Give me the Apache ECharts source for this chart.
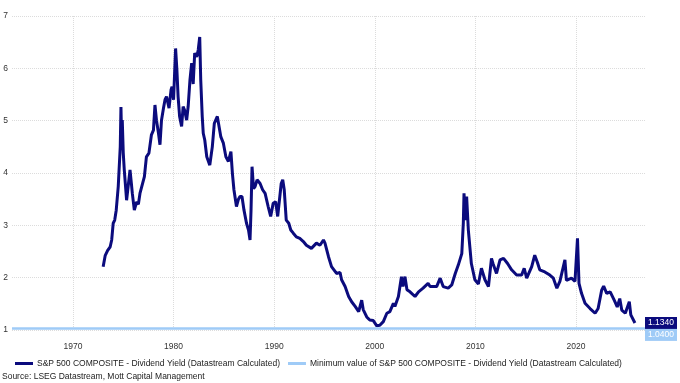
<!DOCTYPE html>
<html>
<head>
<meta charset="utf-8">
<script src="https://cdn.jsdelivr.net/npm/echarts@6/dist/echarts.min.js"></script>
<style>html,body{margin:0;padding:0;background:#fff}#c{width:680px;height:383px}</style>
</head>
<body>
<div id="c"></div>
<script>
// Decimal years and dividend yield (%)
const years = [
1973.0,1973.2,1973.45,1973.7,1973.85,1974.0,1974.15,1974.3,1974.5,1974.7,1974.77,1974.83,1974.9,1975.0,1975.1,1975.33,1975.5,1975.67,1975.8,1975.9,
1976.1,1976.33,1976.5,1976.66,1976.8,1977.1,1977.3,1977.55,1977.8,1978.0,1978.15,1978.3,1978.5,1978.65,1978.8,1979.0,1979.15,
1979.3,1979.55,1979.75,1979.85,1980.0,1980.2,1980.33,1980.45,1980.6,1980.8,1980.95,1981.1,1981.3,1981.45,1981.63,1981.8,
1981.95,1982.1,1982.3,1982.45,1982.6,1982.7,1982.85,1982.95,1983.1,1983.3,1983.45,1983.6,1983.85,1984.05,1984.35,1984.5,
1984.7,1984.95,1985.2,1985.45,1985.7,1985.85,1986.0,1986.25,1986.45,1986.6,1986.8,1987.0,1987.25,1987.45,1987.6,1987.7,1987.8,
1987.95,1988.1,1988.3,1988.6,1988.85,1989.1,1989.4,1989.65,1989.9,1990.15,1990.35,1990.5,1990.7,1990.85,1991.0,1991.2,1991.45,
1991.65,1991.9,1992.2,1992.55,1992.9,1993.2,1993.7,1994.2,1994.55,1994.9,1995.05,1995.4,1995.7,1996.2,1996.55,1996.7,
1997.05,1997.4,1997.7,1998.05,1998.4,1998.7,1998.85,1999.2,1999.5,1999.85,2000.2,2000.5,2000.85,2001.2,2001.5,2001.85,
2002.0,2002.35,2002.65,2002.8,2003.0,2003.2,2003.5,2004.0,2004.35,2004.8,2005.3,2005.5,2006.15,2006.5,2006.8,2007.3,
2007.65,2008.0,2008.3,2008.65,2008.8,2008.87,2009.0,2009.13,2009.3,2009.6,2009.95,2010.3,2010.6,2010.95,2011.3,2011.6,
2011.75,2012.1,2012.45,2012.8,2013.2,2013.6,2014.1,2014.6,2014.85,2015.1,2015.6,2015.9,2016.15,2016.4,2016.9,2017.4,
2017.75,2018.1,2018.4,2018.9,2019.05,2019.55,2019.9,2020.15,2020.3,2020.55,2020.9,2021.4,2021.9,2022.2,2022.55,2022.75,
2023.05,2023.4,2023.8,2024.1,2024.35,2024.55,2024.9,2025.3,2025.45,2025.86
];
const yields = [
2.21,2.42,2.52,2.59,2.72,3.04,3.10,3.29,3.74,4.50,5.26,4.70,5.01,4.38,4.06,3.48,3.48,4.06,3.81,3.61,
3.29,3.45,3.40,3.61,3.60,3.93,4.31,4.38,4.73,4.82,5.30,5.01,4.76,4.54,5.01,5.24,5.40,
5.46,5.24,5.59,5.65,5.40,6.38,5.97,5.46,5.08,4.89,5.27,5.20,5.01,5.27,5.78,6.10,
5.70,6.29,6.22,6.35,6.60,5.78,5.08,4.76,4.63,4.31,4.31,4.15,4.50,4.95,5.08,5.11,
4.69,4.57,4.31,4.22,4.41,3.99,3.68,3.36,3.50,3.55,3.55,3.29,3.04,2.91,2.72,3.29,4.12,
3.70,3.74,3.87,3.80,3.68,3.61,3.36,3.17,3.42,3.45,3.17,3.15,3.80,3.87,3.68,3.10,3.04,
2.91,2.85,2.78,2.75,2.69,2.62,2.56,2.66,2.62,2.72,2.66,2.40,2.21,2.08,2.10,1.96,
1.83,1.64,1.54,1.45,1.35,1.57,1.39,1.25,1.19,1.18,1.08,1.09,1.16,1.32,1.35,1.51,
1.45,1.64,2.02,1.83,2.02,1.77,1.73,1.64,1.73,1.80,1.89,1.83,1.83,1.99,1.83,1.80,
1.86,2.08,2.24,2.46,3.04,3.61,3.10,3.55,2.91,2.27,1.96,1.88,2.18,1.96,1.83,2.37,
2.27,2.08,2.34,2.37,2.27,2.15,2.05,2.05,2.18,1.99,2.21,2.43,2.30,2.15,2.11,2.05,
1.99,1.80,1.93,2.34,1.95,1.99,1.93,2.75,1.89,1.70,1.51,1.41,1.32,1.41,1.76,1.84,
1.70,1.73,1.57,1.44,1.60,1.38,1.32,1.54,1.29,1.134
];
const minimumValue = 1.04;
const xTickYears = [1970, 1980, 1990, 2000, 2010, 2020];
const seriesNames = [
  'S&P 500 COMPOSITE - Dividend Yield (Datastream Calculated)',
  'Minimum value of S&P 500 COMPOSITE - Dividend Yield (Datastream Calculated)'
];
const sourceText = 'Source: LSEG Datastream, Mott Capital Management';

const X_MIN = 1963.94, X_MAX = 2026.86;
const NAVY = '#0b0b7d', LIGHT = '#9fcbf7';
const FONT = '"Liberation Sans", Arial, sans-serif';

const chart = echarts.init(document.getElementById('c'), null, {renderer: 'canvas'});
const lastValue = yields[yields.length - 1];

chart.setOption({
  animation: false,
  backgroundColor: '#ffffff',
  textStyle: {fontFamily: FONT},
  grid: {left: 12, right: 35, top: 16, bottom: 53, containLabel: false},
  title: {
    text: sourceText, left: 2, top: 372, padding: 0,
    textStyle: {fontSize: 8.5, fontWeight: 'normal', color: '#222', fontFamily: FONT}
  },
  legend: {
    left: 15, top: 359, itemGap: 8, itemWidth: 18, itemHeight: 3, icon: 'rect', padding: 0,
    textStyle: {fontSize: 8.5, color: '#222', fontFamily: FONT, padding: [0, 0, 0, -1]},
    data: seriesNames
  },
  xAxis: {
    type: 'value', min: X_MIN, max: X_MAX,
    axisLine: {show: false}, axisTick: {show: false, customValues: xTickYears},
    axisLabel: {customValues: xTickYears, formatter: v => String(Math.round(v)), fontSize: 8.5, color: '#333', margin: 12, fontFamily: FONT},
    splitLine: {show: true, lineStyle: {color: '#dcdcdc', type: 'dotted', width: 1}}
  },
  yAxis: {
    type: 'value', min: 1, max: 7, interval: 1,
    axisLine: {show: false}, axisTick: {show: false},
    axisLabel: {fontSize: 8.5, color: '#333', margin: 4, fontFamily: FONT},
    splitLine: {show: true, lineStyle: {color: '#dcdcdc', type: 'dotted', width: 1}}
  },
  series: [
    {
      name: seriesNames[0], type: 'line', showSymbol: false, symbol: 'none',
      data: years.map((y, i) => [y, yields[i]]),
      lineStyle: {color: NAVY, width: 3}, itemStyle: {color: NAVY},
      z: 3,
      markPoint: {
        symbol: 'circle', symbolSize: 0, silent: true,
        data: [{coord: [X_MAX, lastValue], value: lastValue}],
        label: {show: true, position: 'right', distance: 0, formatter: p => p.value.toFixed(4),
          backgroundColor: NAVY, color: '#fff', fontSize: 8.5, padding: [2, 3, 1, 3], fontFamily: FONT}
      }
    },
    {
      name: seriesNames[1], type: 'line', showSymbol: false, symbol: 'none',
      data: [],
      lineStyle: {color: LIGHT, width: 2.5}, itemStyle: {color: LIGHT},
      z: 2,
      markLine: {
        silent: true, symbol: 'none', label: {show: false},
        lineStyle: {color: LIGHT, width: 2.5, type: 'solid'},
        data: [{yAxis: minimumValue}]
      },
      markPoint: {
        symbol: 'circle', symbolSize: 0, silent: true,
        data: [{coord: [X_MAX, minimumValue], value: minimumValue}],
        label: {show: true, position: 'right', distance: 0, offset: [0, 7], formatter: p => p.value.toFixed(4),
          backgroundColor: LIGHT, color: '#fff', fontSize: 8.5, padding: [2, 3, 1, 3], fontFamily: FONT}
      }
    }
  ]
});
</script>
</body>
</html>
